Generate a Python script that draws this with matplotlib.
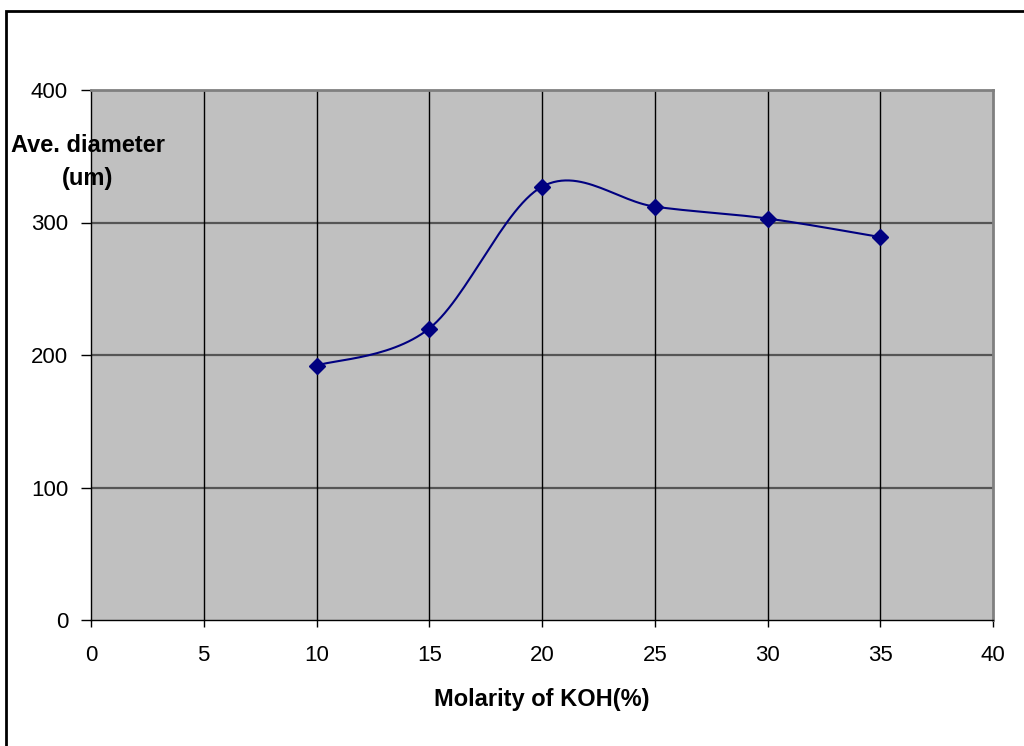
import numpy as np
import matplotlib
matplotlib.use('Agg')
import matplotlib.pyplot as plt
from matplotlib.patches import Rectangle

plt.rcParams['font.family'] = ['Liberation Sans', 'DejaVu Sans']

molarity = [10, 15, 20, 25, 30, 35]
diameter = [192, 220, 327, 312, 303, 289]

x_ticks = [0, 5, 10, 15, 20, 25, 30, 35, 40]
y_ticks = [0, 100, 200, 300, 400]


def smooth_curve(xs, ys, n=30):
    """Catmull-Rom style Bezier smoothing, like a spreadsheet 'smoothed line'."""
    pts = np.column_stack([xs, ys]).astype(float)
    padded = np.vstack([pts[0], pts, pts[-1]])
    out = [pts[0]]
    t = np.linspace(0, 1, n)[1:, None]
    for i in range(1, len(padded) - 2):
        p0, p1, p2, p3 = padded[i - 1], padded[i], padded[i + 1], padded[i + 2]
        c1 = p1 + (p2 - p0) / 6
        c2 = p2 - (p3 - p1) / 6
        seg = ((1 - t) ** 3 * p1 + 3 * (1 - t) ** 2 * t * c1
               + 3 * (1 - t) * t ** 2 * c2 + t ** 3 * p2)
        out.extend(seg)
    out = np.array(out)
    return out[:, 0], out[:, 1]


fig = plt.figure(figsize=(10.24, 7.46), dpi=100)
ax = fig.add_axes([91 / 1024, 1 - 620 / 746, (993 - 91) / 1024, (620 - 90) / 746])
ax.set_facecolor('#c0c0c0')

# outer chart border (left and top edges show)
fig.add_artist(Rectangle((5.5 / 1024, -0.1), 1.2, 1.1 - 10.5 / 746,
                         transform=fig.transFigure, fill=False,
                         edgecolor='black', linewidth=2))

ax.set_xlim(0, 40)
ax.set_ylim(0, 400)
ax.set_xticks(x_ticks)
ax.set_yticks(y_ticks)
ax.tick_params(axis='both', labelsize=16, direction='out', width=1, color='black')
ax.tick_params(axis='x', length=5, pad=13)
ax.tick_params(axis='y', length=7, pad=9.5)

for y in y_ticks[1:-1]:
    ax.axhline(y, color='#555555', linewidth=1.6, zorder=1)
for x in x_ticks[1:-1]:
    ax.axvline(x, color='black', linewidth=1.0, zorder=1)

ax.spines['left'].set_color('black')
ax.spines['bottom'].set_color('black')
ax.spines['left'].set_linewidth(1.0)
ax.spines['bottom'].set_linewidth(1.0)
ax.spines['top'].set_color('#808080')
ax.spines['right'].set_color('#808080')
ax.spines['top'].set_linewidth(2)
ax.spines['right'].set_linewidth(2)

sx, sy = smooth_curve(molarity, diameter)
ax.plot(sx, sy, color='#000080', linewidth=1.5, zorder=3)
ax.plot(molarity, diameter, linestyle='none', marker='D', markersize=8,
        color='#000080', zorder=4)

ax.set_xlabel('Molarity of KOH(%)', fontsize=17, fontweight='bold', labelpad=16)

fig.text(88 / 1024, 1 - 162 / 746, 'Ave. diameter\n(um)', ha='center', va='center',
         fontsize=17, fontweight='bold', linespacing=1.5, zorder=10)

fig.savefig('out.png', dpi=100)
